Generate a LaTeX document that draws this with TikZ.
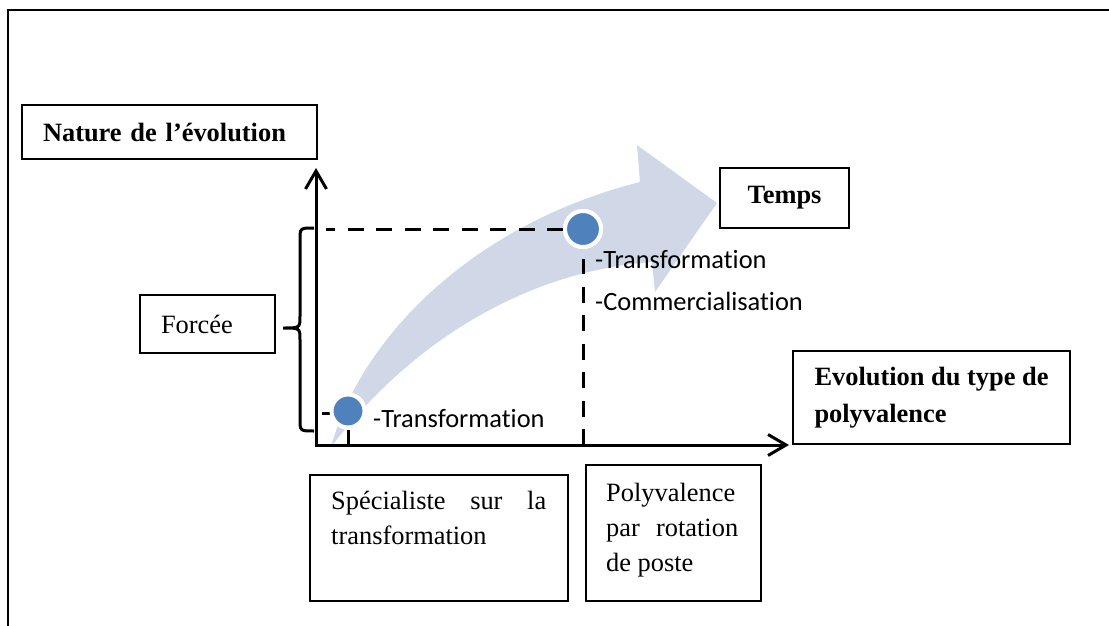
\documentclass[tikz,border=0pt]{standalone}
\usepackage{fontspec}
\setmainfont{Liberation Serif}
\newfontfamily\calib[Ligatures=NoCommon]{Carlito}
\usepackage{xcolor,tikz}
\usetikzlibrary{arrows.meta,positioning,calc}
\definecolor{dotblue}{RGB}{79,129,189}
\definecolor{bandblue}{RGB}{208,216,232}
\hyphenpenalty=10000
\tolerance=9999
\hbadness=10000

\begin{document}
\begin{tikzpicture}[x=1pt,y=-1pt,
  box/.style={draw,line width=2pt,inner sep=0pt,align=left,font=\fontsize{26.4}{35}\selectfont},
  boldbox/.style={box,font=\fontsize{26.4}{37}\selectfont\bfseries},
  txt/.style={inner sep=0pt,align=justify,font=\fontsize{26.4}{35}\selectfont},
  guide/.style={line width=3pt,dash pattern=on 16pt off 12.5pt},
  dot/.style={circle,fill=dotblue,draw=white,line width=4pt,inner sep=0pt},
  lbl/.style={inner sep=0pt,anchor=base west,font=\calib\fontsize{26.4}{32}\selectfont}]
\useasboundingbox (0,0) rectangle (1109,626);
% cadre
\draw[line width=2.5pt] (8,626) -- (8,10) -- (1109,10);
% fleche du temps
\fill[bandblue] (331,447) .. controls (360,340) and (470,225) .. (640,182) -- (637,145) -- (717,203) -- (655,292) -- (652,262) .. controls (540,270) and (420,330) .. (331,447) -- cycle;
% axes
\coordinate (o) at (316,445);
\coordinate (ytop) at (316,168);
\coordinate (xend) at (789,445);
\draw[line width=3pt,{Straight Barb[length=18pt,width=21pt]}-{Straight Barb[length=18pt,width=21pt]}] (ytop) -- (o) -- (xend);
% points
\node[dot,minimum size=33pt] (p1) at (348,411) {};
\node[dot,minimum size=36pt] (p2) at (583,229) {};
\draw[guide] (p2.west) -- ($(p2.west -| o)+(10,0)$);
\draw[guide] (p2 |- o) -- ($(p2.south)+(0,10)$);
\draw[guide] ($(o |- p1)+(6,2)$) -- ($(p1.west)+(4,2)$);
\draw[guide] (p1 |- o) -- (p1.south);
% redraw points over the guides
\node[dot,minimum size=33pt] at (p1) {};
\node[dot,minimum size=36pt] at (p2) {};
% accolade
\coordinate (tip) at (283,328);
\draw[line width=3pt] (314,228) .. controls (300,228) .. (300,240) -- (300,316) .. controls (300,328) .. (tip) .. controls (300,328) .. (300,340) -- (300,419) .. controls (300,431) .. (314,431);
% etiquettes
\node[lbl] (t1) at (373,427) {-Transformation};
\node[lbl] (t2) at (595,268) {-Transformation};
\node[lbl] (t3) at (595,310) {-Commercialisation};
% cadres
\node[boldbox,anchor=north west,minimum height=54pt,text width=253pt,inner xsep=21pt] (nature) at (21,104) {Nature de l’évolution};
\node[boldbox,anchor=north west,minimum width=129pt,minimum height=60pt,align=center] (temps) at (719,167) {Temps};
\node[box,anchor=north west,minimum height=58pt,text width=93pt,inner xsep=21pt] (forcee) at (139,294) {Forcée};
\node[boldbox,anchor=north west,minimum width=277pt,minimum height=93pt] (evol) at (792,350) {Evolution du type de\\polyvalence};
\node[box,anchor=north west,minimum width=258pt,minimum height=126pt] (spec) at (309,474) {};
\node[txt,anchor=north west,text width=215pt] (spectxt) at (331,491) {Spécialiste sur la transformation};
\node[box,anchor=north west,minimum width=175pt,minimum height=136pt] (poly) at (585,464) {};
\node[txt,anchor=north west,text width=132pt] (polytxt) at (606,483) {Polyvalence par rotation de poste};
\end{tikzpicture}
\end{document}
